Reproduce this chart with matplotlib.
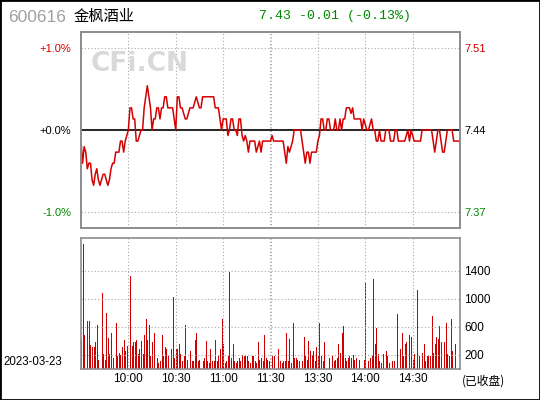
import matplotlib.pyplot as plt
from matplotlib.patches import Rectangle
import numpy as np

# quote header
code = "600616"
name = "金枫酒业"
quote = "7.43 -0.01 (-0.13%)"
trade_date = "2023-03-23"
prev_close = 7.44

# one point per minute, 9:30-11:30 then 13:00-15:00 (241 points)
price = [
    7.43, 7.41, 7.425, 7.42, 7.405, 7.41, 7.41, 7.395, 7.39, 7.40, 7.405, 7.395, 7.39, 7.395, 7.40, 7.40, 7.395, 7.39, 7.395, 7.405,
    7.41, 7.41, 7.42, 7.42, 7.42, 7.43, 7.43, 7.42, 7.43, 7.435, 7.44, 7.46, 7.46, 7.45, 7.45, 7.43, 7.43, 7.435, 7.44, 7.44,
    7.46, 7.47, 7.48, 7.47, 7.46, 7.44, 7.45, 7.45, 7.46, 7.46, 7.45, 7.46, 7.46, 7.47, 7.47, 7.46, 7.46, 7.46, 7.46, 7.45,
    7.44, 7.47, 7.47, 7.46, 7.46, 7.455, 7.45, 7.45, 7.455, 7.46, 7.46, 7.46, 7.465, 7.47, 7.465, 7.46, 7.46, 7.47, 7.47, 7.47,
    7.47, 7.47, 7.47, 7.47, 7.47, 7.46, 7.46, 7.46, 7.45, 7.44, 7.45, 7.45, 7.45, 7.435, 7.44, 7.45, 7.45, 7.44, 7.44, 7.435,
    7.45, 7.45, 7.435, 7.43, 7.435, 7.43, 7.42, 7.43, 7.43, 7.43, 7.43, 7.42, 7.425, 7.43, 7.42, 7.43, 7.43, 7.43, 7.43, 7.43,
    7.43, 7.435, 7.43, 7.43, 7.43, 7.43, 7.43, 7.43, 7.43, 7.42, 7.41, 7.425, 7.42, 7.425, 7.43, 7.44, 7.44, 7.44, 7.44, 7.44,
    7.43, 7.42, 7.41, 7.42, 7.42, 7.41, 7.42, 7.42, 7.42, 7.42, 7.43, 7.435, 7.45, 7.45, 7.44, 7.44, 7.45, 7.45, 7.44, 7.44,
    7.44, 7.45, 7.44, 7.44, 7.45, 7.44, 7.45, 7.45, 7.46, 7.46, 7.46, 7.455, 7.46, 7.45, 7.45, 7.45, 7.45, 7.45, 7.44, 7.45,
    7.445, 7.44, 7.44, 7.445, 7.45, 7.44, 7.44, 7.43, 7.43, 7.44, 7.43, 7.43, 7.43, 7.44, 7.44, 7.44, 7.43, 7.43, 7.43, 7.44,
    7.44, 7.43, 7.43, 7.43, 7.43, 7.43, 7.435, 7.44, 7.43, 7.44, 7.435, 7.43, 7.43, 7.43, 7.43, 7.43, 7.44, 7.44, 7.44, 7.44,
    7.44, 7.44, 7.44, 7.43, 7.42, 7.43, 7.44, 7.44, 7.43, 7.42, 7.42, 7.43, 7.44, 7.44, 7.44, 7.44, 7.43, 7.43, 7.43, 7.43, 7.43,
]

volume = [
    420, 1790, 480, 0, 690, 690, 340, 320, 310, 390, 630, 130, 0, 1080, 220, 130, 800, 440, 210, 510,
    160, 0, 660, 190, 230, 200, 320, 420, 250, 330, 0, 1330, 330, 390, 390, 420, 210, 290, 400, 220,
    490, 720, 420, 630, 180, 380, 510, 0, 150, 90, 110, 490, 190, 310, 280, 180, 0, 280, 1030, 150,
    290, 290, 360, 220, 110, 180, 630, 130, 0, 260, 120, 110, 420, 510, 110, 130, 0, 120, 160, 400,
    110, 90, 290, 110, 110, 420, 110, 180, 290, 720, 350, 90, 120, 190, 1380, 160, 350, 120, 90, 110,
    160, 110, 200, 180, 190, 180, 110, 90, 180, 180, 110, 90, 380, 130, 160, 110, 480, 160, 130, 120,
    420, 180, 180, 0, 0, 290, 110, 90, 110, 110, 520, 110, 430, 90, 650, 160, 160, 130, 120, 690,
    120, 450, 200, 130, 400, 260, 200, 260, 110, 310, 200, 660, 190, 110, 390, 0, 0, 160, 190, 180,
    120, 130, 150, 360, 230, 520, 620, 160, 110, 160, 180, 150, 200, 130, 150, 0, 130, 120, 0, 130,
    1230, 0, 110, 160, 180, 1290, 350, 590, 220, 110, 90, 220, 0, 250, 190, 90, 400, 110, 120, 0,
    790, 0, 290, 520, 180, 360, 390, 0, 490, 450, 130, 220, 0, 1130, 180, 350, 230, 360, 110, 190,
    190, 180, 760, 230, 360, 450, 430, 610, 380, 0, 390, 660, 220, 190, 710, 250, 0, 360, 0, 0, 0,
]

time_pos = [30, 60, 90, 120, 150, 180, 210]
time_labels = ["10:00", "10:30", "11:00", "11:30", "13:30", "14:00", "14:30"]
pct_ticks = [1.0, 0.0, -1.0]
vol_ticks = [200, 600, 1000, 1400]

RED = '#d40000'
GREEN = '#008800'
GRID = '#a8a8a8'
FRAME = '#8c8c8c'
SANS = ['Liberation Sans', 'DejaVu Sans']
CJK = ['Noto Sans CJK SC', 'DejaVu Sans']

x = np.arange(len(price))
pct = (np.array(price) - prev_close) / prev_close * 100

fig = plt.figure(figsize=(5.4, 4.0), dpi=100)
ax = fig.add_axes([81 / 540, 1 - 228 / 400, 379 / 540, 196 / 400])
axv = fig.add_axes([81 / 540, 1 - 369 / 400, 379 / 540, 131 / 400])

# ---- price panel
ax.set_xlim(0, 240)
ax.set_ylim(-1.19, 1.19)
for t in time_pos:
    if t == 120:
        ax.axvline(119.4, color=GRID, lw=0.8, ls=(0, (1, 2)))
        ax.axvline(120.6, color=GRID, lw=0.8, ls=(0, (1, 2)))
    else:
        ax.axvline(t, color=GRID, lw=0.8, ls=(0, (1, 2)))
for p in (1.0, -1.0):
    ax.axhline(p, color=GRID, lw=0.8, ls=(0, (1, 2)))
ax.axhline(0, color='black', lw=1.2)
ax.plot(x, pct, color=RED, lw=1.1)

ax.set_xticks([])
ax.set_yticks(pct_ticks)
ax.set_yticklabels([f"{p:+.1f}%" for p in pct_ticks], family=SANS, fontsize=8)
for lab, c in zip(ax.get_yticklabels(), [RED, 'black', GREEN]):
    lab.set_color(c)
ax.tick_params(length=0, pad=7)

ax2 = ax.twinx()
ax2.set_ylim(ax.get_ylim())
ax2.set_yticks(pct_ticks)
ax2.set_yticklabels([f"{prev_close * (1 + p / 100):.2f}" for p in pct_ticks], family=SANS, fontsize=8)
for lab, c in zip(ax2.get_yticklabels(), [RED, 'black', GREEN]):
    lab.set_color(c)
ax2.tick_params(length=0, pad=3)

for a in (ax, ax2, axv):
    for s in a.spines.values():
        s.set_color(FRAME)
        s.set_linewidth(1.2)

# watermark
ax.text(0.155, 0.835, "CFi.CN", transform=ax.transAxes, ha='center', va='center',
        fontsize=19, fontweight='bold', color='#d9d9d9', family='DejaVu Sans')

# ---- volume panel
axv.set_xlim(0, 240)
axv.set_ylim(0, 1870)
for t in time_pos:
    if t == 120:
        axv.axvline(119.4, color=GRID, lw=0.8, ls=(0, (1, 2)))
        axv.axvline(120.6, color=GRID, lw=0.8, ls=(0, (1, 2)))
    else:
        axv.axvline(t, color=GRID, lw=0.8, ls=(0, (1, 2)))
for v in vol_ticks:
    axv.axhline(v, color=GRID, lw=0.8, ls=(0, (1, 2)))
axv.bar(x, volume, width=0.62, align='edge', color='#cc0000', linewidth=0)

axv.set_xticks(time_pos)
axv.set_xticklabels(time_labels, family=SANS, fontsize=8.5)
axv.yaxis.tick_right()
axv.set_yticks(vol_ticks)
axv.set_yticklabels([str(v) for v in vol_ticks], family=SANS, fontsize=8.5)
axv.tick_params(length=0, pad=3)

# ---- header and footer texts
fig.text(8 / 540, 1 - 17 / 400, code, color='#a0a0a0', fontsize=12.5, va='center', family=SANS)
fig.text(74 / 540, 1 - 16 / 400, name, color='black', fontsize=11, va='center', family=CJK)
fig.text(259 / 540, 1 - 16 / 400, quote, color=GREEN, fontsize=9.5, va='center', family='Liberation Mono')
fig.text(3 / 540, 1 - 362 / 400, trade_date, color='black', fontsize=8.3, va='center', family=SANS)
fig.text(462 / 540, 1 - 381 / 400, "(已收盘)", color='black', fontsize=8.5, va='center', family=CJK)

fig.patches.append(Rectangle((0, 0), 1, 1, transform=fig.transFigure, fill=False,
                             edgecolor='black', linewidth=2))

fig.savefig('out.png', dpi=100)
